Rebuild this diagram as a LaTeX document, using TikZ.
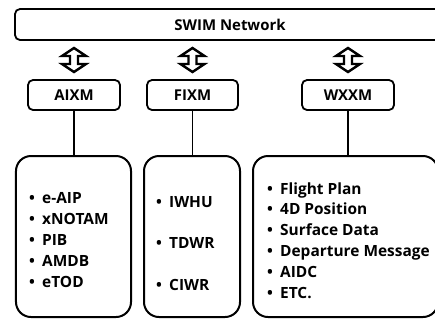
\documentclass[tikz,border=0pt]{standalone}
\usepackage{fontspec}
\setmainfont{Open Sans}
\usetikzlibrary{calc}
\begin{document}
\begin{tikzpicture}[x=1bp,y=-1bp,
  box/.style={draw, line width=1.8bp, rounded corners=5bp, inner sep=0pt},
  bigbox/.style={draw, line width=2bp, rounded corners=15bp, inner sep=0pt},
  lbl/.style={font=\bfseries\fontsize{15}{17}\selectfont},
  item/.style={anchor=base west, inner sep=0pt, font=\bfseries\fontsize{15.5}{17}\selectfont},
  blockarrow/.style={draw, line width=2.4bp, fill=white, line join=miter},
  link/.style={draw, line width=1.8bp}]
\clip (0,0) rectangle (435,320);
\useasboundingbox (0,0) rectangle (435,320);
% network bar
\node[box, minimum width=430bp, minimum height=31bp, lbl] (swim) at (230,24.5) {SWIM Network};
% standards
\node[box, minimum width=92bp, minimum height=30bp, lbl] (aixm) at (74,95) {AIXM};
\node[box, minimum width=91bp, minimum height=30bp, lbl] (fixm) at (192.5,95) {FIXM};
\node[box, minimum width=92bp, minimum height=30bp, lbl] (wxxm) at (348,95) {WXXM};
% content boxes
\node[bigbox, minimum width=115bp, minimum height=161bp] (aixmbig) at (73.5,236.5) {};
\node[bigbox, minimum width=96bp, minimum height=161bp] (fixmbig) at (192,236.5) {};
\node[bigbox, minimum width=185bp, minimum height=161bp] (wxxmbig) at (345.5,236.5) {};
% block arrows
\foreach \n in {aixm,fixm,wxxm}{
  \coordinate (\n arr) at ($(swim.south -| \n.north)!0.5!(\n.north)$);
  \begin{scope}[shift={(\n arr)}]
    \draw[blockarrow] (0,-12) -- (12,-4) -- (4,-4) -- (4,4) -- (12,4)
      -- (0,12) -- (-12,4) -- (-4,4) -- (-4,-4) -- (-12,-4) -- cycle;
  \end{scope}
}
% links
\draw[link] (aixm.south) -- (aixm.south |- aixmbig.north);
\draw[link] (fixm.south) -- (fixm.south |- fixmbig.north);
\draw[link] (wxxm.south) -- (wxxm.south |- wxxmbig.north);
% lists
\foreach \t [count=\i] in {e-AIP,xNOTAM,PIB,AMDB,eTOD}
  \node[item] (a\i) at (29,{203+21*(\i-1)}) {\makebox[13bp][l]{•}\t};
\foreach \t [count=\i] in {IWHU,TDWR,CIWR}
  \node[item] (f\i) at (156,{207+41.5*(\i-1)}) {\makebox[13bp][l]{•}\t};
\foreach \t [count=\i] in {Flight Plan,4D Position,Surface Data,Departure Message,AIDC,ETC.}
  \node[item] (w\i) at (267,{194+20.8*(\i-1)}) {\makebox[13bp][l]{•}\t};
\end{tikzpicture}
\end{document}
